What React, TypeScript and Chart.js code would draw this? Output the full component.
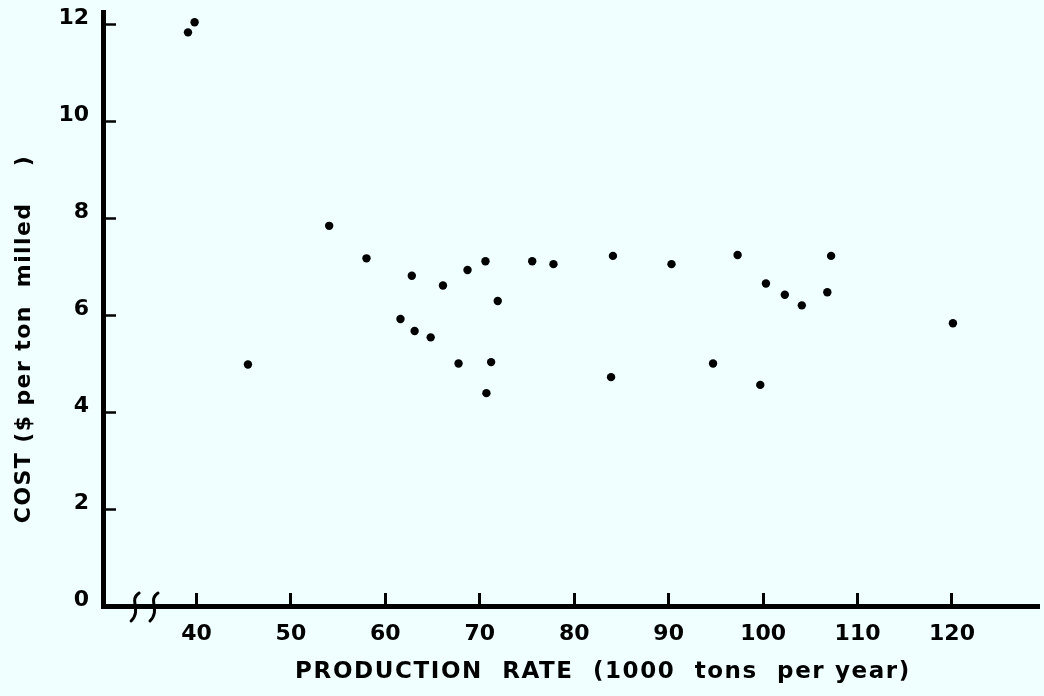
import React, { useEffect, useRef } from 'react';
import { Chart, registerables } from 'chart.js';

Chart.register(...registerables);

// Production rate (1000 tons per year)
const PRODUCTION_RATE = [
  39.1, 39.8, 54.05, 58.0, 45.45, 62.8, 66.1, 68.7, 70.6, 75.55,
  77.8, 71.9, 61.6, 63.1, 64.8, 67.75, 71.2, 70.7, 84.1, 90.3,
  97.3, 100.3, 102.3, 104.1, 83.9, 94.7, 99.7, 107.2, 106.8, 120.1,
];
// Cost ($ per ton milled)
const COST = [
  11.83, 12.04, 7.84, 7.17, 4.98, 6.81, 6.61, 6.93, 7.11, 7.11,
  7.05, 6.29, 5.92, 5.67, 5.54, 5.0, 5.03, 4.39, 7.22, 7.05,
  7.24, 6.65, 6.42, 6.2, 4.72, 5.0, 4.56, 7.22, 6.47, 5.83,
];

const X_TICKS = [40, 50, 60, 70, 80, 90, 100, 110, 120];
const Y_TICKS = [0, 2, 4, 6, 8, 10, 12];
const X_RANGE = [30.1, 129.3];
const Y_RANGE = [0, 12.25];
const AXIS_BREAKS = [33.5, 35.5];

const X_TITLE = 'PRODUCTION  RATE  (1000  tons  per year)';
const Y_TITLE = 'COST ($ per ton  milled    )';

const BG = '#f0ffff';
const INK = '#000000';
const FONT = "'DejaVu Sans', sans-serif";

export default function App() {
  const ref = useRef<HTMLCanvasElement>(null);

  useEffect(() => {
    document.body.style.margin = '0';
    document.body.style.background = BG;
    const canvas = ref.current;
    if (!canvas) return;

    const bgPlugin = {
      id: 'bg',
      beforeDraw(chart: any) {
        const ctx = chart.ctx;
        ctx.save();
        ctx.fillStyle = BG;
        ctx.fillRect(0, 0, chart.width, chart.height);
        ctx.restore();
      },
    };

    const decorPlugin = {
      id: 'decor',
      afterDraw(chart: any) {
        const ctx = chart.ctx as CanvasRenderingContext2D;
        const xs = chart.scales.x;
        const py = chart.chartArea.bottom;
        ctx.save();
        // axis break squiggles
        ctx.strokeStyle = INK;
        ctx.lineWidth = 3;
        ctx.lineCap = 'round';
        AXIS_BREAKS.forEach((v) => {
          const px = xs.getPixelForValue(v);
          ctx.beginPath();
          ctx.moveTo(px + 4, py - 13);
          ctx.bezierCurveTo(px - 7, py - 6, px + 7, py + 4, px - 4, py + 15);
          ctx.stroke();
        });
        // axis titles
        ctx.fillStyle = INK;
        ctx.textAlign = 'center';
        ctx.textBaseline = 'middle';
        (ctx as any).letterSpacing = '1.6px';
        ctx.font = `bold 23px ${FONT}`;
        ctx.fillText(X_TITLE, 603, 672);
        (ctx as any).letterSpacing = '1.4px';
        ctx.font = `bold 22px ${FONT}`;
        ctx.translate(24, 339);
        ctx.rotate(-Math.PI / 2);
        ctx.fillText(Y_TITLE, 0, 0);
        (ctx as any).letterSpacing = '0px';
        ctx.restore();
      },
    };

    const tickFont = { family: FONT, weight: 'bold' as const, size: 22 };

    const chart = new Chart(canvas, {
      type: 'scatter',
      data: {
        datasets: [
          {
            data: PRODUCTION_RATE.map((x, i) => ({ x, y: COST[i] })),
            backgroundColor: INK,
            borderWidth: 0,
            pointRadius: 4.2,
            pointHoverRadius: 4.2,
          },
        ],
      },
      options: {
        responsive: false,
        animation: false,
        events: [],
        layout: { padding: { top: 12, left: 0, right: 0, bottom: 0 } },
        plugins: {
          legend: { display: false },
          tooltip: { enabled: false },
        },
        scales: {
          x: {
            type: 'linear',
            position: 'bottom',
            min: X_RANGE[0],
            max: X_RANGE[1],
            afterBuildTicks: (s: any) => {
              s.ticks = X_TICKS.map((v) => ({ value: v }));
            },
            afterFit: (s: any) => {
              s.height = 90;
              s.paddingLeft = 0;
              s.paddingRight = 0;
              s.paddingTop = 0;
              s.paddingBottom = 0;
            },
            grid: {
              display: true,
              drawOnChartArea: false,
              drawTicks: true,
              tickLength: -13,
              tickWidth: 3,
              tickColor: INK,
            },
            border: { display: true, color: INK, width: 5 },
            ticks: {
              autoSkip: false,
              maxRotation: 0,
              minRotation: 0,
              padding: 28,
              color: INK,
              font: tickFont,
              callback: (v: any) => String(v),
            },
          },
          y: {
            type: 'linear',
            position: 'left',
            min: Y_RANGE[0],
            max: Y_RANGE[1],
            afterBuildTicks: (s: any) => {
              s.ticks = Y_TICKS.map((v) => ({ value: v }));
            },
            afterFit: (s: any) => {
              s.width = 103;
              s.paddingLeft = 0;
              s.paddingRight = 0;
              s.paddingTop = 0;
              s.paddingBottom = 0;
            },
            grid: {
              display: true,
              drawOnChartArea: false,
              drawTicks: true,
              tickLength: -13,
              tickWidth: 2.5,
              tickColor: INK,
            },
            border: { display: true, color: INK, width: 5 },
            ticks: {
              autoSkip: false,
              padding: 27,
              labelOffset: -5.5,
              color: INK,
              font: tickFont,
              callback: (v: any) => String(v),
            },
          },
        },
      },
      plugins: [bgPlugin, decorPlugin],
    } as any);

    return () => chart.destroy();
  }, []);

  return (
    <div style={{ position: 'fixed', left: 0, top: 0, width: 1044, height: 696, background: BG }}>
      <canvas ref={ref} width={1044} height={696} style={{ display: 'block' }} />
    </div>
  );
}
